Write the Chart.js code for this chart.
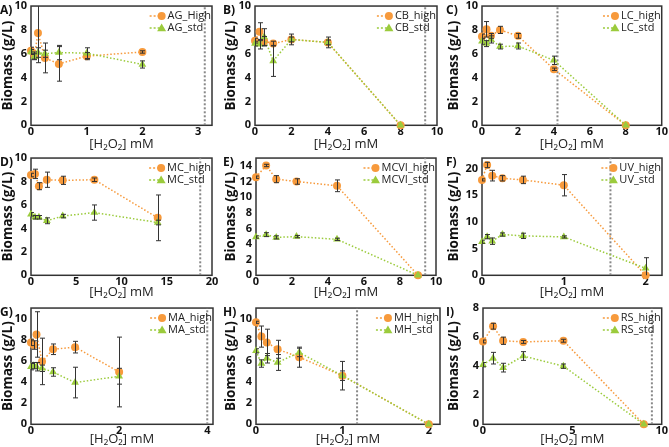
<!DOCTYPE html>
<html>
<head>
<meta charset="utf-8">
<script src="https://cdn.jsdelivr.net/npm/chart.js@4.4.1/dist/chart.umd.min.js"></script>
<style>
  body { margin: 0; background: #fff; }
  #page { position: relative; width: 669px; height: 447px; overflow: hidden; }
  .cell { position: absolute; width: 223px; }
</style>
</head>
<body>
<div id="page"></div>
<script>
// A) AG
const agX = [0, 0.0625, 0.125, 0.25, 0.5, 1, 2]
const agHigh = [6.25, 5.85, 7.75, 5.65, 5.15, 5.8, 6.15]
const agHighErr = [0.3, 0.3, 2.5, 1.25, 1.45, 0.3, 0.1]
const agStd = [6.15, 5.75, 6.1, 6.0, 6.1, 6.05, 5.1]
const agStdErr = [0.2, 0.25, 0.4, 0.3, 0.6, 0.45, 0.3]
// B) CB
const cbX = [0, 0.25, 0.5, 1, 2, 4, 8]
const cbHigh = [7.1, 7.85, 7.05, 6.85, 7.2, 6.95, 0]
const cbHighErr = [0.2, 0.75, 0.4, 0.2, 0.2, 0.2, 0]
const cbStd = [6.85, 6.8, 7.4, 5.4, 7.2, 6.95, 0]
const cbStdErr = [0.2, 0.4, 0.7, 1.3, 0.45, 0.45, 0]
// C) LC
const lcX = [0, 0.25, 0.5, 1, 2, 4, 8]
const lcHigh = [7.45, 8.05, 7.5, 8.0, 7.5, 4.7, 0]
const lcHighErr = [0.2, 0.65, 0.2, 0.3, 0.2, 0.1, 0]
const lcStd = [7.05, 6.85, 7.2, 6.6, 6.65, 5.45, 0]
const lcStdErr = [0.25, 0.25, 0.3, 0.2, 0.25, 0.35, 0]
// D) MC
const mcX = [0, 0.4375, 0.875, 1.75, 3.5, 7, 14]
const mcHigh = [8.55, 8.65, 7.6, 8.15, 8.1, 8.15, 4.9]
const mcHighErr = [0.15, 0.4, 0.3, 0.65, 0.35, 0.15, 1.95]
const mcStd = [5.2, 4.95, 4.95, 4.65, 5.05, 5.35, 4.5]
const mcStdErr = [0.15, 0.15, 0.15, 0.25, 0.15, 0.65, 0.2]
// E) MCVI
const mcviX = [0, 0.5625, 1.125, 2.25, 4.5, 9]
const mcviHigh = [12.55, 14.05, 12.3, 12.0, 11.45, 0]
const mcviHighErr = [0.15, 0.15, 0.45, 0.35, 0.75, 0]
const mcviStd = [4.9, 5.2, 4.85, 4.95, 4.6, 0]
const mcviStdErr = [0.15, 0.25, 0.2, 0.15, 0.15, 0]
// F) UV
const uvX = [0, 0.0625, 0.125, 0.25, 0.5, 1, 2]
const uvHigh = [17.9, 20.7, 18.7, 18.2, 17.9, 16.9, 0]
const uvHighErr = [0.2, 0.5, 1.0, 0.5, 0.7, 2.0, 0]
const uvStd = [6.3, 7.25, 6.4, 7.65, 7.4, 7.2, 1.3]
const uvStdErr = [0.3, 0.4, 0.6, 0.3, 0.5, 0.2, 2.0]
// G) MA
const maX = [0, 0.0625, 0.125, 0.25, 0.5, 1, 2]
const maHigh = [7.75, 7.5, 8.5, 5.95, 7.1, 7.3, 4.95]
const maHighErr = [0.3, 0.4, 2.15, 2.2, 0.5, 0.55, 3.3]
const maStd = [5.45, 5.55, 5.45, 5.3, 4.95, 3.95, 4.55]
const maStdErr = [0.3, 0.3, 0.4, 0.3, 0.4, 1.45, 0.75]
// H) MH
const mhX = [0, 0.0625, 0.125, 0.25, 0.5, 1, 2]
const mhHigh = [9.65, 8.3, 7.75, 7.1, 6.35, 4.6, 0]
const mhHighErr = [0.1, 1.0, 1.25, 0.85, 0.95, 1.35, 0]
const mhStd = [6.95, 5.75, 6.25, 5.85, 6.8, 4.6, 0]
const mhStdErr = [0.2, 0.35, 0.45, 0.75, 0.4, 0.45, 0]
// I) RS
const rsX = [0, 0.5625, 1.125, 2.25, 4.5, 9]
const rsHigh = [5.7, 6.75, 5.75, 5.67, 5.75, 0]
const rsHighErr = [0.1, 0.2, 0.25, 0.1, 0.1, 0]
const rsStd = [4.1, 4.55, 3.9, 4.7, 4.0, 0]
const rsStdErr = [0.15, 0.4, 0.3, 0.3, 0.15, 0]

const panelTags = ['A)', 'B)', 'C)', 'D)', 'E)', 'F)', 'G)', 'H)', 'I)']
const highNames = ['AG_High', 'CB_high', 'LC_high', 'MC_high', 'MCVI_high', 'UV_high', 'MA_high', 'MH_high', 'RS_high']
const stdNames = ['AG_std', 'CB_std', 'LC_std', 'MC_std', 'MCVI_std', 'UV_std', 'MA_std', 'MH_std', 'RS_std']
const cutoffs = [3.12, 9.35, 4.2, 18.7, 9.4, 1.57, 4.0, 1.17, 9.45]
const xMaxes = [3.25, 10, 10, 20, 10, 2.2, 4.13, 2.13, 10]
const xSteps = [1, 2, 2, 5, 2, 1, 2, 1, 5]
const yMaxes = [10, 10, 10, 10, 15, 22, 11, 11, 8]
const ySteps = [2, 2, 2, 2, 2, 5, 2, 2, 2]

const series = [
  [agX, agHigh, agHighErr, agStd, agStdErr],
  [cbX, cbHigh, cbHighErr, cbStd, cbStdErr],
  [lcX, lcHigh, lcHighErr, lcStd, lcStdErr],
  [mcX, mcHigh, mcHighErr, mcStd, mcStdErr],
  [mcviX, mcviHigh, mcviHighErr, mcviStd, mcviStdErr],
  [uvX, uvHigh, uvHighErr, uvStd, uvStdErr],
  [maX, maHigh, maHighErr, maStd, maStdErr],
  [mhX, mhHigh, mhHighErr, mhStd, mhStdErr],
  [rsX, rsHigh, rsHighErr, rsStd, rsStdErr]
]

// plot box placement inside each 223px column and each row
const plotLeft = [31, 32, 36, 31, 33, 36, 31, 33, 37]
const plotRight = [212, 214, 218, 212, 213, 216, 213, 217, 217]
const rowTop = [2, 154, 304]
const rowBottom = [125, 275, 424]
const rowTitleCenter = [144, 292, 439]

const orange = '#F79A3C'
const green = '#9BCB3C'
const fontFamily = '"Open Sans", "DejaVu Sans", sans-serif'
Chart.defaults.font.family = fontFamily
Chart.defaults.color = '#222'

const toPoints = (xs, ys) => xs.map((x, i) => ({ x: x, y: ys[i] }))

// error bars, placed with the chart's own scales
const errorBars = {
  id: 'errorBars',
  afterDatasetsDraw(chart) {
    const { ctx, chartArea } = chart
    const xs = chart.scales.x, ys = chart.scales.y
    ctx.save()
    ctx.beginPath()
    ctx.rect(chartArea.left, chartArea.top, chartArea.width, chartArea.height)
    ctx.clip()
    ctx.strokeStyle = '#333'
    ctx.lineWidth = 1
    chart.data.datasets.forEach(ds => {
      if (!ds.errors) return
      ds.data.forEach((p, i) => {
        const e = ds.errors[i]
        if (!e) return
        const px = Math.round(xs.getPixelForValue(p.x)) + 0.5
        const top = ys.getPixelForValue(p.y + e)
        const bot = ys.getPixelForValue(p.y - e)
        ctx.beginPath()
        ctx.moveTo(px, top); ctx.lineTo(px, bot)
        ctx.moveTo(px - 2.5, top); ctx.lineTo(px + 2.5, top)
        ctx.moveTo(px - 2.5, bot); ctx.lineTo(px + 2.5, bot)
        ctx.stroke()
      })
    })
    ctx.restore()
  }
}

const frameAndText = {
  id: 'frameAndText',
  beforeDatasetsDraw(chart) {
    const { ctx, chartArea } = chart
    ctx.save()
    ctx.strokeStyle = '#333'
    ctx.lineWidth = 1.5
    ctx.strokeRect(chartArea.left, chartArea.top, chartArea.width, chartArea.height)
    ctx.restore()
  },
  afterDraw(chart) {
    const { ctx, chartArea } = chart
    const opts = chart.options.plugins.frameAndText
    ctx.save()
    // panel tag
    ctx.fillStyle = '#111'
    ctx.font = 'bold 12px ' + fontFamily
    ctx.textBaseline = 'middle'
    ctx.fillText(opts.tag, 0, chartArea.top + 5)
    // legend inside the plot, top right
    const items = chart.data.datasets.filter(d => d.inLegend).sort((a, b) => b.order - a.order)
    ctx.font = '11px ' + fontFamily
    const w = Math.max(...items.map(d => ctx.measureText(d.label).width))
    const tx = chartArea.right - 2 - w
    items.forEach((d, i) => {
      const y = chartArea.top + 10 + i * 12
      ctx.strokeStyle = d.borderColor
      ctx.lineWidth = 1.5
      ctx.setLineDash([2, 2])
      ctx.beginPath(); ctx.moveTo(tx - 17, y); ctx.lineTo(tx - 1, y); ctx.stroke()
      ctx.setLineDash([])
      ctx.fillStyle = d.backgroundColor
      const mx = tx - 5
      ctx.beginPath()
      if (d.pointStyle === 'triangle') {
        ctx.moveTo(mx, y - 4.5); ctx.lineTo(mx + 4.5, y + 3.2); ctx.lineTo(mx - 4.5, y + 3.2); ctx.closePath()
      } else {
        ctx.arc(mx, y, 4, 0, Math.PI * 2)
      }
      ctx.fill()
      ctx.fillStyle = '#222'
      ctx.fillText(d.label, tx + 1, y)
    })
    ctx.restore()
  }
}

const page = document.getElementById('page')

panelTags.forEach((tag, k) => {
  const [xs, high, highErr, std, stdErr] = series[k]
  const row = Math.floor(k / 3), col = k % 3
  const top = rowTop[row] - 6
  // canvas ends just under the x title; the gap left over goes between ticks and title
  const bottom = rowTitleCenter[row] + 6
  const below = bottom - rowBottom[row]
  const titleGap = below - 25
  const cell = document.createElement('div')
  cell.className = 'cell'
  cell.style.left = (col * 223) + 'px'
  cell.style.top = top + 'px'
  cell.style.height = (bottom - top) + 'px'
  page.appendChild(cell)
  const canvas = document.createElement('canvas')
  cell.appendChild(canvas)

  new Chart(canvas, {
    type: 'line',
    data: {
      datasets: [
        {
          label: stdNames[k], data: toPoints(xs, std), errors: stdErr, inLegend: true,
          borderColor: green, backgroundColor: green, borderWidth: 1.5, borderDash: [1.5, 2],
          pointStyle: 'triangle', pointRadius: 4.5, pointBorderWidth: 0, order: 1, clip: 8
        },
        {
          label: highNames[k], data: toPoints(xs, high), errors: highErr, inLegend: true,
          borderColor: orange, backgroundColor: orange, borderWidth: 1.5, borderDash: [1.5, 2],
          pointStyle: 'circle', pointRadius: 4, pointBorderWidth: 0, order: 2, clip: 8
        },
        {
          label: 'cutoff', data: [{ x: cutoffs[k], y: 0 }, { x: cutoffs[k], y: yMaxes[k] }],
          borderColor: '#888', borderWidth: 2, borderDash: [2, 2], pointRadius: 0, order: 3
        }
      ]
    },
    options: {
      responsive: true,
      maintainAspectRatio: false,
      animation: false,
      layout: { padding: { left: 0, right: 223 - plotRight[k], top: 0, bottom: 0 } },
      plugins: {
        legend: { display: false },
        tooltip: { enabled: false },
        frameAndText: { tag: tag }
      },
      scales: {
        x: {
          type: 'linear', min: 0, max: xMaxes[k],
          grid: { display: false, drawTicks: false }, border: { display: false },
          ticks: { stepSize: xSteps[k], includeBounds: false, padding: 1, maxRotation: 0,
            font: { size: 11, weight: 'bold', lineHeight: 1.0 }, color: '#111' },
          title: { display: true, text: '[H₂O₂] mM', padding: { top: titleGap, bottom: 0 },
            font: { size: 13, lineHeight: 0.9 }, color: '#222' }
        },
        y: {
          type: 'linear', min: 0, max: yMaxes[k],
          afterFit(scale) { scale.width = plotLeft[k] },
          grid: { display: false, drawTicks: false }, border: { display: false },
          ticks: { stepSize: ySteps[k], includeBounds: false, padding: 4,
            font: { size: 11, weight: 'bold', lineHeight: 1.1 }, color: '#111' },
          title: { display: true, text: 'Biomass (g/L)', padding: { top: 1, bottom: 0 },
            font: { size: 13.5, weight: 'bold', lineHeight: 1.0 }, color: '#111' }
        }
      }
    },
    plugins: [errorBars, frameAndText]
  })
})
</script>
</body>
</html>
